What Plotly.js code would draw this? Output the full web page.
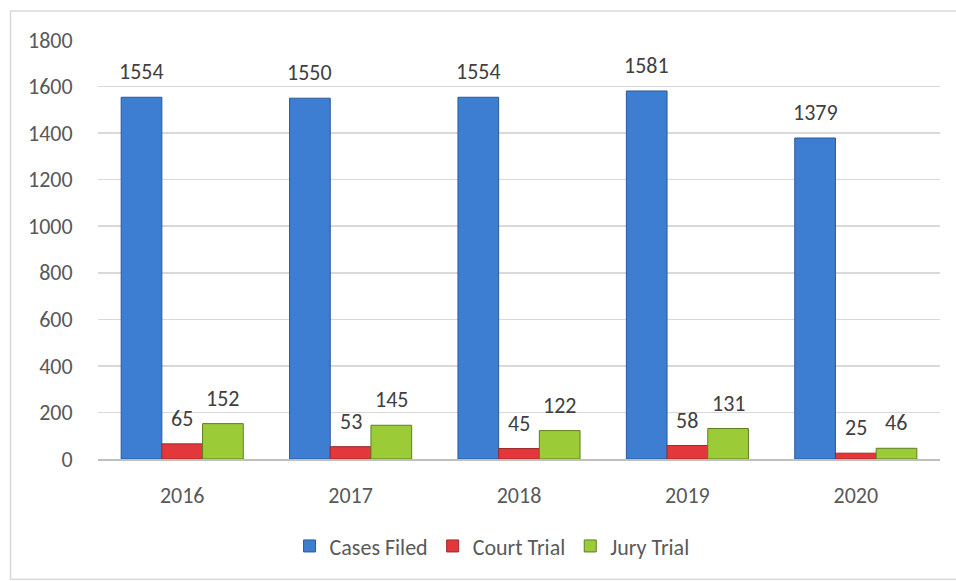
<!DOCTYPE html>
<html><head><meta charset="utf-8">
<script src="https://cdn.plot.ly/plotly-3.0.1.min.js"></script>
<style>html,body{margin:0;padding:0;background:#fff}#chart{width:956px;height:581px}</style>
</head><body><div id="chart"></div>
<script>
const years = ['2016','2017','2018','2019','2020'];
const casesFiled = [1554,1550,1554,1581,1379];
const courtTrial = [65,53,45,58,25];
const juryTrial = [152,145,122,131,46];
const seriesNames = ['Cases Filed','Court Trial','Jury Trial'];
const yTicks = [0,200,400,600,800,1000,1200,1400,1600,1800];

const fontFam = 'Carlito, Calibri, "Open Sans", "Noto Sans", sans-serif';
const series = [
  {name:seriesNames[0], vals:casesFiled, fill:'#3D7ED2', line:'#2A5A9A'},
  {name:seriesNames[1], vals:courtTrial, fill:'#E2373B', line:'#9E2A2A'},
  {name:seriesNames[2], vals:juryTrial, fill:'#9CCB38', line:'#5E7F22'}
];
const data = series.map(s => ({type:'bar', name:s.name, x:years, y:s.vals,
    marker:{color:s.fill, line:{color:s.line, width:1}}, hoverinfo:'skip'}));

const plotW = 956 - 98 - 16;
const bargap = 0.275;
const barW = plotW / years.length * (1 - bargap) / 3;
const annotations = [];
series.forEach((s, si) => {
  s.vals.forEach((v, i) => {
    annotations.push({x:i, y:v, xref:'x', yref:'y', text:String(v), showarrow:false,
      xanchor:'center', yanchor:'bottom', xshift:(si - 1) * barW, yshift:10,
      font:{family:fontFam, size:22, color:'#404040'}});
  });
});

const layout = {
  width:956, height:581,
  margin:{l:98, r:16, t:39.5, b:121.5},
  paper_bgcolor:'#fff', plot_bgcolor:'#fff',
  barmode:'group', bargap:bargap, bargroupgap:0,
  font:{family:fontFam, color:'#595959'},
  xaxis:{type:'category', range:[-0.5, years.length - 0.5], tickfont:{size:22, color:'#595959'}, ticks:'outside', ticklen:16, tickcolor:'rgba(0,0,0,0)',
    showline:true, linecolor:'#BFBFBF', linewidth:1.5, showgrid:false},
  yaxis:{range:[0,1800], tickvals:yTicks, ticktext:yTicks.map(String), tickfont:{size:22, color:'#595959'},
    ticks:'outside', ticklen:20, tickcolor:'rgba(0,0,0,0)',
    showgrid:true, gridcolor:'#D9D9D9', gridwidth:1.5, zeroline:false, showline:false},
  showlegend:true,
  legend:{orientation:'h', x:0.468, xanchor:'center', y:-0.208, yanchor:'middle',
    font:{size:22, color:'#595959'}, itemwidth:30, tracegroupgap:0},
  annotations:annotations,
  shapes:[{type:'rect', xref:'paper', yref:'paper', x0:-0.1039, x1:1.2, y0:-0.287, y1:1.069,
    line:{color:'#D9D9D9', width:1.5}, fillcolor:'rgba(0,0,0,0)', layer:'below'}]
};
Plotly.newPlot('chart', data, layout, {staticPlot:true});
</script></body></html>
